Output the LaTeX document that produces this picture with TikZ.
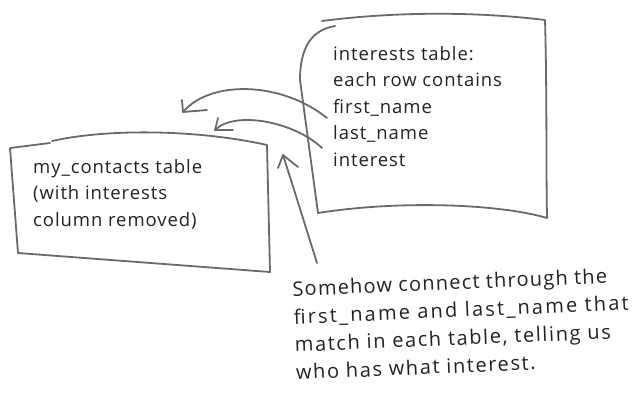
\documentclass[tikz,border=0pt]{standalone}
\usepackage{fontspec}
\setmainfont{Open Sans}
\newfontfamily\handfont[LetterSpace=5]{Open Sans}
\newfontfamily\handwide[LetterSpace=6]{Open Sans}
\newfontfamily\handwider[LetterSpace=11]{Open Sans}
\newfontfamily\handmid[LetterSpace=8]{Open Sans}
\definecolor{penline}{HTML}{6A6A6A}
\definecolor{pentext}{HTML}{222222}
\tikzset{
  sketch/.style={draw=penline, line width=1.8pt, line cap=round, line join=round},
  notes/.style={text=pentext, inner sep=0pt, align=left, font=\handfont\fontsize{18.5}{26.5}\selectfont},
  remark/.style={text=pentext, inner sep=0pt, align=left, font=\handwide\fontsize{20}{27.8}\selectfont}
}
\begin{document}
\begin{tikzpicture}[x=1pt,y=-1pt]
\useasboundingbox (0,0) rectangle (643,400);
% left box (my_contacts)
\draw[sketch] (52,141) .. controls (110,128) and (200,130) .. (267,145)
  -- (270,272) -- (18,253) -- (10,148) -- (50,143);
% right box (interests)
\draw[sketch] (322,21) .. controls (400,11) and (480,12) .. (545,20)
  .. controls (547,90) and (546,160) .. (547,218)
  .. controls (500,204) and (400,200) .. (318,213)
  -- (300,80) .. controls (300,50) and (310,30) .. (335,26);
% texts
\node[notes, anchor=north west] (contacts) at (33,159) {my\_contacts table\\(with interests\\column removed)};
\node[notes, anchor=north west] (interests) at (333,46) {interests table:\\each row contains\\first\_name\\last\_name\\interest};
\node[remark, anchor=north west, rotate=2.4] (note) at (292,281) {Somehow connect through the\\{\handwider first\_name and last\_name that}\\{\handmid match in each table, telling us}\\{\handmid who has what interest.}};
% connector ends
\coordinate (fromfirst) at (327,118);
\coordinate (tofirst) at (183,112);
\coordinate (fromlast) at (322,148);
\coordinate (tolast) at (215,130);
\coordinate (fromnote) at (317,263);
\coordinate (tonote) at (283,155);
% connectors with hand-drawn open barbs
\draw[sketch] (fromfirst) .. controls (281,81) and (210,80) .. (tofirst);
\draw[sketch] (tofirst) -- ++(-1,-12) (tofirst) -- ++(24,-2);
\draw[sketch] (fromlast) .. controls (295,122) and (235,110) .. (tolast);
\draw[sketch] (tolast) -- ++(3,-12) (tolast) -- ++(18,0);
\draw[sketch] (fromnote) .. controls (302,215) and (291,180) .. (tonote);
\draw[sketch] (tonote) -- ++(-5,13) (tonote) -- ++(15,12);
\end{tikzpicture}
\end{document}
